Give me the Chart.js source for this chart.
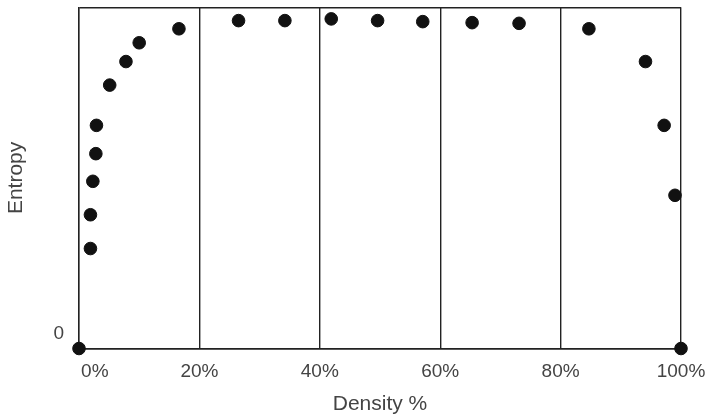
<!DOCTYPE html>
<html>
<head>
<meta charset="utf-8">
<script src="https://cdn.jsdelivr.net/npm/chart.js@4.4.1/dist/chart.umd.min.js"></script>
<style>
  html, body { margin: 0; padding: 0; background: #fff; }
  #wrap { width: 708px; height: 417px; }
</style>
</head>
<body>
<div id="wrap"><canvas id="chart"></canvas></div>
<script>
// density (%) and entropy (relative, 0..100)
const density = [0, 1.9, 1.9, 2.3, 2.8, 2.9, 5.1, 7.8, 10.0, 16.6, 26.5, 34.2, 41.9, 49.6, 57.1, 65.3, 73.1, 84.7, 94.1, 97.2, 99.0, 100];
const entropy = [0, 29.3, 39.2, 49.0, 57.1, 65.4, 77.2, 84.1, 89.6, 93.7, 96.1, 96.1, 96.6, 96.1, 95.8, 95.5, 95.3, 93.7, 84.1, 65.4, 44.9, 0];
const xTicks = [0, 20, 40, 60, 80, 100];
const yTicks = [0, 100];

const lineColor = '#222';
const textColor = '#444';
const fontFamily = '"Liberation Sans", Arial, sans-serif';

const points = density.map((d, i) => ({ x: d, y: entropy[i] }));

const ctx = document.getElementById('chart').getContext('2d');
new Chart(ctx, {
  type: 'scatter',
  data: {
    datasets: [{
      label: 'Entropy',
      data: points,
      backgroundColor: '#111',
      borderColor: '#111',
      pointRadius: 6.3,
      pointHoverRadius: 6.3,
      clip: false
    }]
  },
  options: {
    responsive: true,
    maintainAspectRatio: false,
    animation: false,
    layout: { padding: { top: 5, right: 27, left: 0, bottom: 0 } },
    plugins: { legend: { display: false }, tooltip: { enabled: false } },
    scales: {
      x: {
        type: 'linear',
        min: 0,
        max: 100,
        afterBuildTicks: s => { s.ticks = xTicks.map(v => ({ value: v })); },
        afterFit: s => { s.height = 68.5; s.paddingLeft = 0; s.paddingRight = 0; },
        grid: { color: lineColor, lineWidth: 1.4, drawTicks: false },
        border: { color: lineColor, width: 1.4 },
        ticks: {
          padding: 12,
          color: textColor,
          font: { family: fontFamily, size: 19 },
          maxRotation: 0,
          // the 0% label sits a bit right of its tick in the original
          callback: v => v === 0 ? '      0%' : v + '%'
        },
        title: {
          display: true,
          text: 'Density %',
          color: textColor,
          font: { family: fontFamily, size: 21 },
          padding: { top: 5, bottom: 0 }
        }
      },
      y: {
        type: 'linear',
        min: 0,
        max: 100,
        afterBuildTicks: s => { s.ticks = yTicks.map(v => ({ value: v })); },
        afterFit: s => { s.width = 79; s.paddingTop = 0; s.paddingBottom = 0; },
        grid: { color: lineColor, lineWidth: 1.4, drawTicks: false },
        border: { color: lineColor, width: 1.4 },
        ticks: {
          padding: 15,
          labelOffset: -15,
          color: textColor,
          font: { family: fontFamily, size: 19 },
          callback: v => v === 0 ? '0' : ''
        },
        title: {
          display: true,
          text: 'Entropy',
          color: textColor,
          font: { family: fontFamily, size: 21 },
          padding: { top: 4, bottom: 0 }
        }
      }
    }
  }
});
</script>
</body>
</html>
